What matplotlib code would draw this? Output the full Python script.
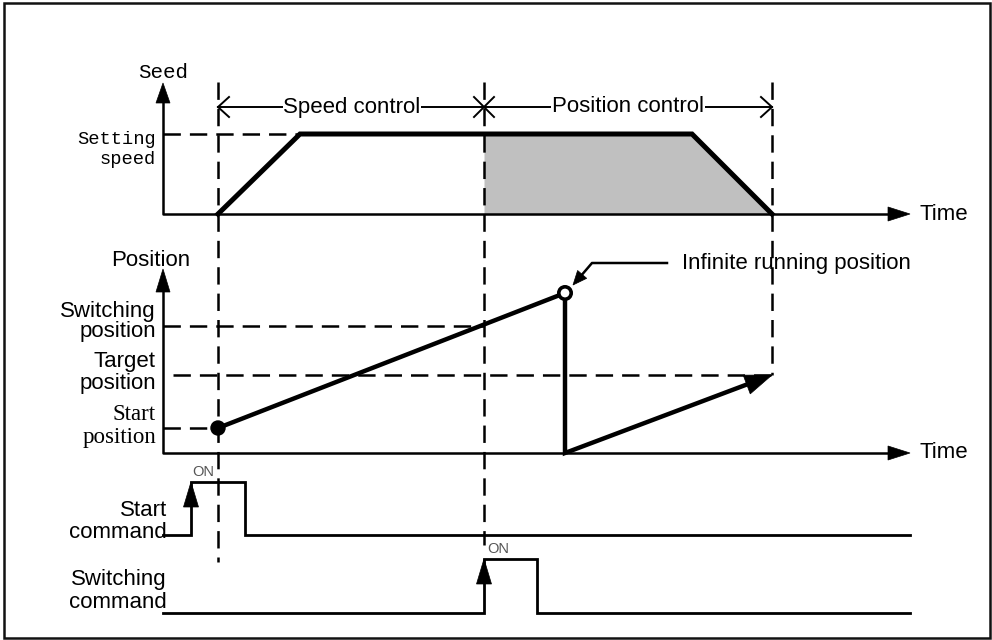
import matplotlib
matplotlib.use('Agg')
import matplotlib.pyplot as plt
import numpy as np
from matplotlib.patches import Polygon, Circle, Rectangle

# diagram coordinates (pixel units, y grows downward)
AXIS_X = 163
TIME_END = 910
T_START, T_SWITCH, T_STOP = 218, 484, 772

# speed profile
speed_t = [218, 300, 692, 772]
speed_v = [214, 134, 134, 214]
SPEED_BASE, SPEED_SET, SPEED_TOP = 214, 134, 83

# position profile
pos_run_t = [218, 565]
pos_run_y = [428, 293]
pos_back_t = [565, 565, 772]
pos_back_y = [297, 453, 375]
POS_BASE, POS_TOP = 453, 269
POS_SWITCH, POS_TARGET, POS_START = 326, 375, 428

# command signals
start_t = [163, 191, 191, 245, 245, 910]
start_y = [535, 535, 482, 482, 535, 535]
switch_t = [163, 484, 484, 537, 537, 910]
switch_y = [613, 613, 559, 559, 613, 613]

SANS = 'Liberation Sans'
MONO = 'Liberation Mono'
SERIF = 'Liberation Serif'
FS = 16
plt.rcParams['lines.scale_dashes'] = False


def arrowhead(ax, tip, tail, length, half_width):
    tip = np.array(tip, float)
    tail = np.array(tail, float)
    d = (tip - tail) / np.linalg.norm(tip - tail)
    n = np.array([-d[1], d[0]])
    base = tip - d * length
    ax.add_patch(Polygon([tip, base + n * half_width, base - n * half_width],
                         closed=True, fc='k', ec='k', lw=0.5, zorder=5))


def open_head(ax, tip, direction, size=11, half=10):
    x, y = tip
    ax.plot([x - direction * size, x, x - direction * size], [y - half, y, y + half],
            color='k', lw=1.4, solid_joinstyle='miter', zorder=4)


fig = plt.figure(figsize=(9.92, 6.4), dpi=100)
ax = fig.add_axes([0, 0, 1, 1])
ax.set_xlim(0, 992)
ax.set_ylim(640, 0)
ax.axis('off')

# outer frame
ax.add_patch(Rectangle((4, 3), 986, 635, fill=False, ec='#111111', lw=1.8))

dash = dict(color='k', lw=1.8, dashes=(12.5, 6.5), zorder=2)

# vertical guide lines
ax.plot([T_START, T_START], [82, 562], **dash)
ax.plot([T_SWITCH, T_SWITCH], [82, 545], **dash)
ax.plot([T_STOP, T_STOP], [82, POS_TARGET], **dash)

# horizontal guide lines
ax.plot([AXIS_X, speed_t[1]], [SPEED_SET, SPEED_SET], **dash)
ax.plot([AXIS_X, T_SWITCH], [POS_SWITCH, POS_SWITCH], **dash)
ax.plot([173, T_STOP], [POS_TARGET, POS_TARGET], **dash)
ax.plot([AXIS_X, T_START], [POS_START, POS_START], **dash)

# ---- speed panel ----
ax.plot([AXIS_X, AXIS_X, TIME_END - 20], [SPEED_TOP + 15, SPEED_BASE, SPEED_BASE],
        color='k', lw=1.8, zorder=3)
arrowhead(ax, (AXIS_X, SPEED_TOP), (AXIS_X, SPEED_BASE), 20, 7)
arrowhead(ax, (TIME_END, SPEED_BASE), (AXIS_X, SPEED_BASE), 22, 7)

fill_t = [T_SWITCH, speed_t[2], speed_t[3]]
fill_v = [SPEED_SET, speed_v[2], speed_v[3]]
ax.fill_between(fill_t, fill_v, SPEED_BASE, color='#c0c0c0', lw=0, zorder=1)
ax.plot(speed_t, speed_v, color='k', lw=3.6, solid_joinstyle='miter', zorder=4)

# control range arrows
ax.plot([T_START, T_STOP], [107, 107], color='k', lw=1.4, zorder=3)
open_head(ax, (T_START, 107), -1)
open_head(ax, (T_STOP, 107), 1)
ax.plot([T_SWITCH - 10, T_SWITCH + 10], [97, 117], color='k', lw=1.4, zorder=4)
ax.plot([T_SWITCH - 10, T_SWITCH + 10], [117, 97], color='k', lw=1.4, zorder=4)
box = dict(fc='white', ec='none', pad=0.5)
ax.text(352, 107, 'Speed control', family=SANS, fontsize=FS, ha='center', va='center',
        bbox=box, zorder=5)
ax.text(628, 107, 'Position control', family=SANS, fontsize=FS, ha='center', va='center',
        bbox=box, zorder=5)

ax.text(AXIS_X, 73, 'Seed', family=MONO, fontsize=15, ha='center', va='center')
ax.text(156, 139, 'Setting', family=MONO, fontsize=13.5, ha='right', va='center')
ax.text(156, 160, 'speed', family=MONO, fontsize=13.5, ha='right', va='center')
ax.text(920, 214, 'Time', family=SANS, fontsize=FS, ha='left', va='center')

# ---- position panel ----
ax.plot([AXIS_X, AXIS_X, TIME_END - 20], [POS_TOP + 15, POS_BASE, POS_BASE],
        color='k', lw=1.8, zorder=3)
arrowhead(ax, (AXIS_X, POS_TOP), (AXIS_X, POS_BASE), 23, 7)
arrowhead(ax, (TIME_END, POS_BASE), (AXIS_X, POS_BASE), 22, 7)

ax.plot(pos_run_t, pos_run_y, color='k', lw=3.2, zorder=4)
ax.add_patch(Circle((pos_run_t[0], pos_run_y[0]), 7, fc='k', ec='k', zorder=6))
ax.add_patch(Circle((pos_run_t[1], pos_run_y[1]), 6.2, fc='white', ec='k', lw=2.6, zorder=6))

# fall back and move to target
d = np.array([pos_back_t[2] - pos_back_t[1], pos_back_y[2] - pos_back_y[1]], float)
d /= np.linalg.norm(d)
end = np.array([pos_back_t[2], pos_back_y[2]]) - d * 20
ax.plot([pos_back_t[0], pos_back_t[1], end[0]], [pos_back_y[0], pos_back_y[1], end[1]],
        color='k', lw=3.2, solid_joinstyle='miter', zorder=4)
arrowhead(ax, (pos_back_t[2], pos_back_y[2]), (pos_back_t[1], pos_back_y[1]), 27, 10)

# infinite running annotation
ax.plot([667, 592, 580], [263, 263, 277], color='k', lw=1.8, zorder=4)
arrowhead(ax, (573, 285), (592, 263), 14, 6)
ax.text(682, 263, 'Infinite running position', family=SANS, fontsize=FS,
        ha='left', va='center')

ax.text(151, 260, 'Position', family=SANS, fontsize=FS, ha='center', va='center')
ax.text(156, 311, 'Switching', family=SANS, fontsize=FS, ha='right', va='center')
ax.text(156, 332, 'position', family=SANS, fontsize=FS, ha='right', va='center')
ax.text(156, 361, 'Target', family=SANS, fontsize=FS, ha='right', va='center')
ax.text(156, 384, 'position', family=SANS, fontsize=FS, ha='right', va='center')
ax.text(156, 414, 'Start', family=SERIF, fontsize=16.5, ha='right', va='center')
ax.text(156, 438, 'position', family=SERIF, fontsize=16.5, ha='right', va='center')
ax.text(920, POS_BASE, 'Time', family=SANS, fontsize=FS, ha='left', va='center')

# ---- command signals ----
ax.plot(start_t, start_y, color='k', lw=2.0, solid_joinstyle='miter', zorder=4)
arrowhead(ax, (start_t[2], start_y[2]), (start_t[1], start_y[1]), 25, 7.5)
ax.plot(switch_t, switch_y, color='k', lw=2.0, solid_joinstyle='miter', zorder=4)
arrowhead(ax, (switch_t[2], switch_y[2]), (switch_t[1], switch_y[1]), 25, 7.5)

ax.text(192, 472, 'ON', family=SANS, fontsize=10.5, color='#555555', ha='left', va='center')
ax.text(487, 549, 'ON', family=SANS, fontsize=10.5, color='#555555', ha='left', va='center')

ax.text(167, 510, 'Start', family=SANS, fontsize=FS, ha='right', va='center')
ax.text(167, 532, 'command', family=SANS, fontsize=FS, ha='right', va='center')
ax.text(167, 579, 'Switching', family=SANS, fontsize=FS, ha='right', va='center')
ax.text(167, 603, 'command', family=SANS, fontsize=FS, ha='right', va='center')

fig.savefig('out.png', dpi=100)
